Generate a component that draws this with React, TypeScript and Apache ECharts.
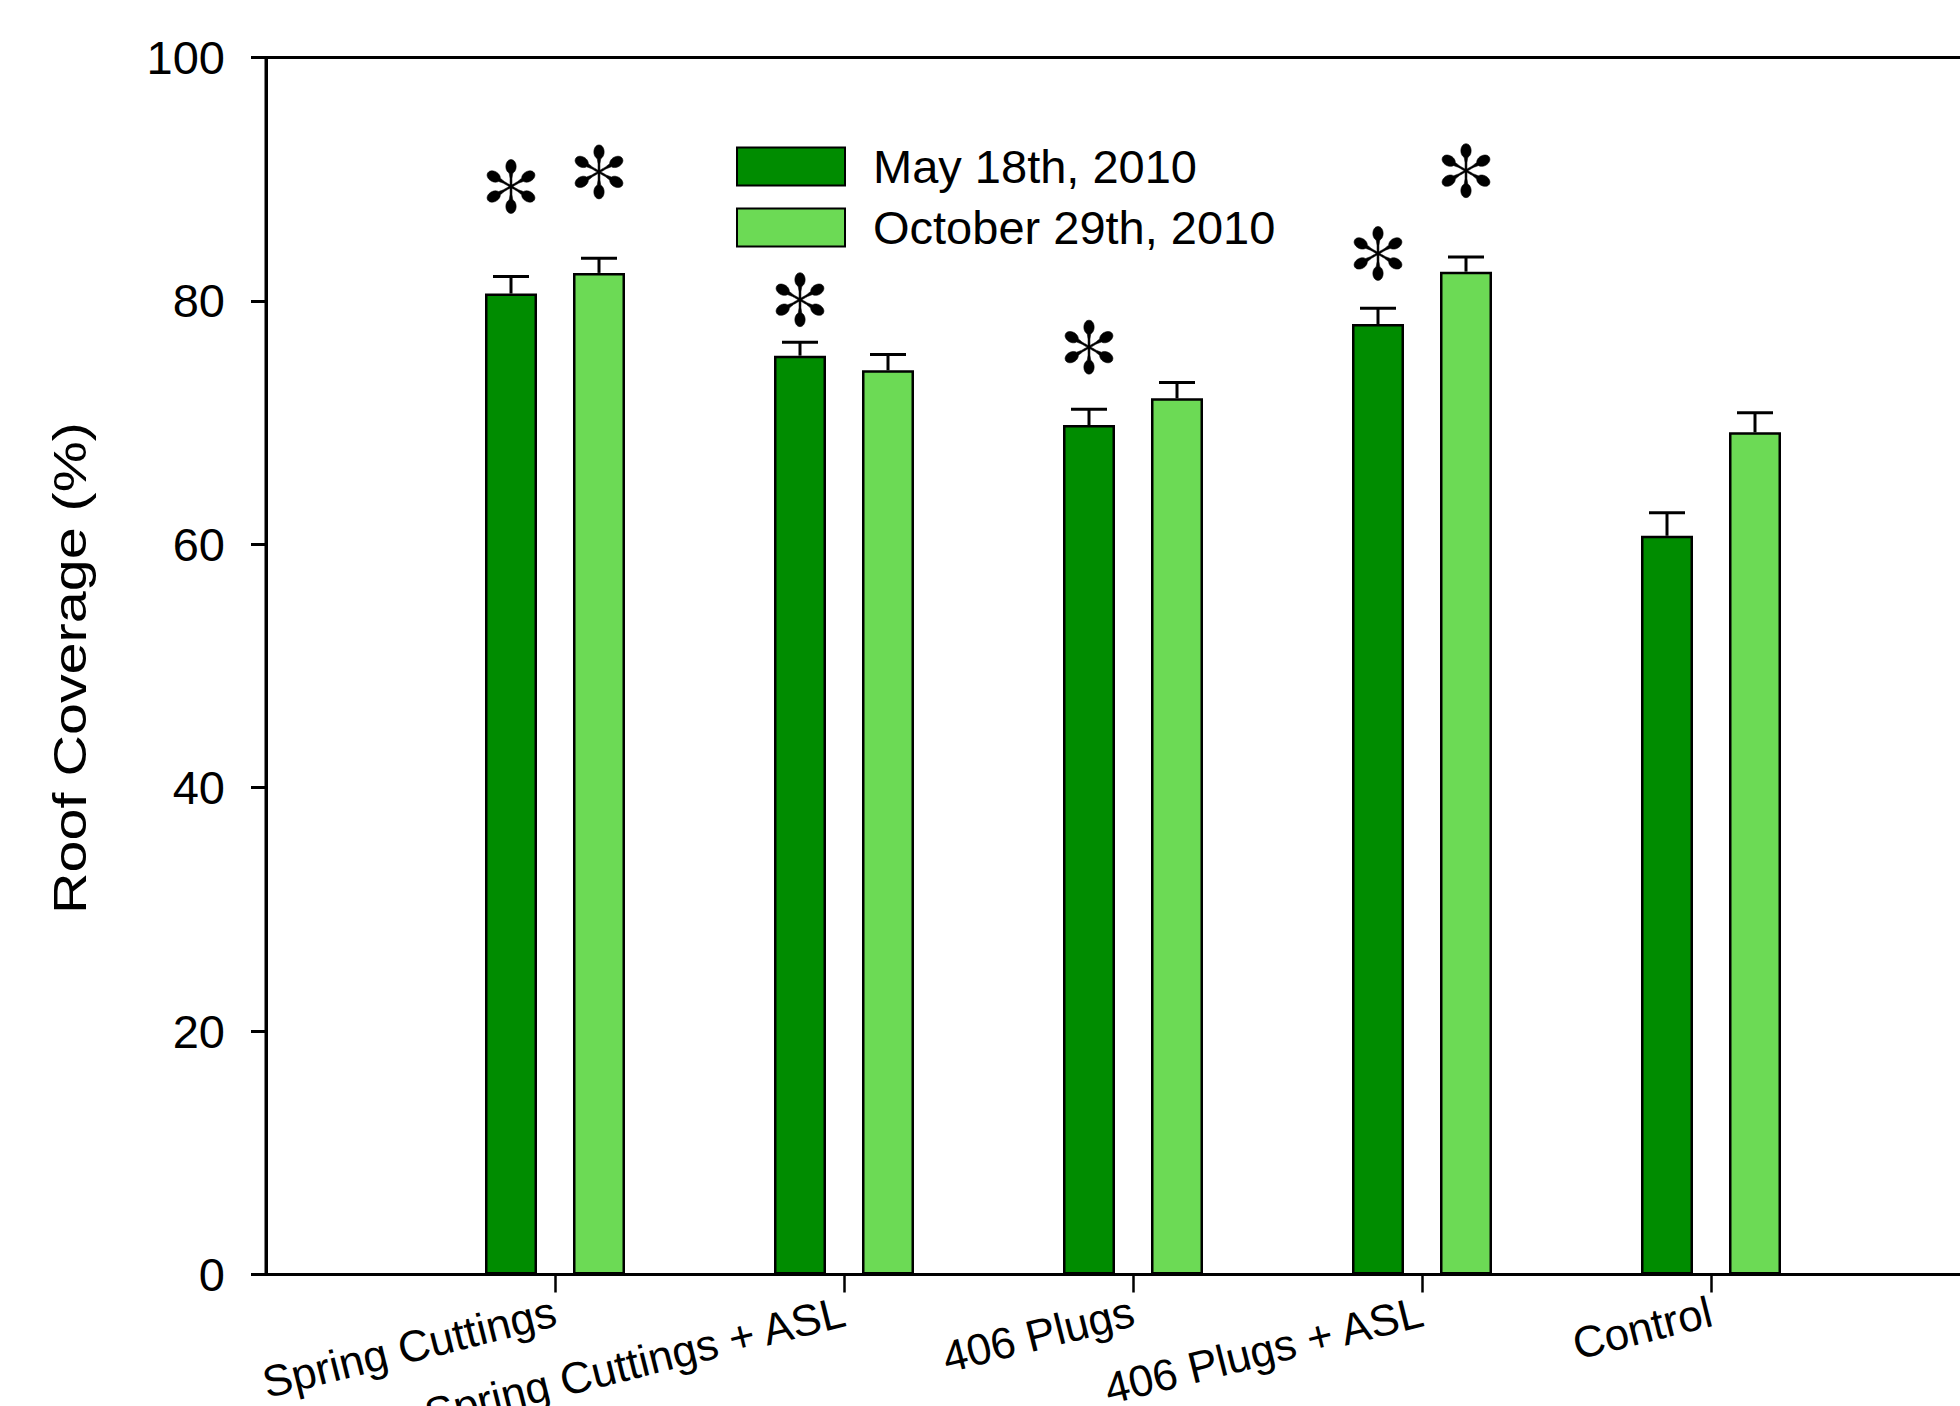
import React, { useEffect, useRef } from "react";
import * as echarts from "echarts";

// ---------- data ----------
const categories = [
  "Spring Cuttings",
  "Spring Cuttings + ASL",
  "406 Plugs",
  "406 Plugs + ASL",
  "Control",
];
const seriesNames = ["May 18th, 2010", "October 29th, 2010"];
const mayValues = [80.6, 75.5, 69.8, 78.1, 60.7];
const mayErrors = [1.4, 1.1, 1.3, 1.3, 1.9];
const octValues = [82.3, 74.3, 72.0, 82.4, 69.2];
const octErrors = [1.2, 1.3, 1.3, 1.2, 1.6];
// height (in % units) of the significance asterisk above each bar, null = none
const mayAsterisks = [89.4, 80.1, 76.2, 83.9, null];
const octAsterisks = [90.6, null, null, 90.7, null];
const yMin = 0;
const yMax = 100;
const yStep = 20;
const yTitle = "Roof Coverage (%)";

// ---------- style constants ----------
const FONT = "'Liberation Sans', Arial, Helvetica, sans-serif";
const DARK = "#008C00";
const LIGHT = "#6CDA55";
const BAR_WIDTH = 52;
const BAR_GAP = 36;
const OFFSET = (BAR_WIDTH + BAR_GAP) / 2;
const CAP_HALF = 18;
const AST_R = 27;

// axis categories padded with an empty slot at both ends
const axisCategories = ["", ...categories, ""];

function halfWidth(t: number): number {
  const stem = 0.035;
  const tc = 0.74;
  const a = 0.26;
  const b = 0.19;
  if (t >= 1) return 0;
  let hw = stem;
  if (t > 0.3 && t < tc) {
    hw = stem + ((t - 0.3) / (tc - 0.3)) * 0.07;
  }
  const u = (t - tc) / a;
  if (Math.abs(u) <= 1) {
    const e = b * Math.sqrt(1 - u * u);
    hw = t >= tc ? e : Math.max(hw, e);
  }
  return hw;
}

function asteriskChildren(cx: number, cy: number, R: number) {
  const children: any[] = [];
  const N = 60;
  for (let k = 0; k < 6; k++) {
    const ang = Math.PI / 2 + (k * Math.PI) / 3;
    const dx = Math.cos(ang);
    const dy = -Math.sin(ang);
    const nx = -dy;
    const ny = dx;
    const left: number[][] = [];
    const right: number[][] = [];
    for (let j = 0; j <= N; j++) {
      const t = j / N;
      const s = R * t;
      const hw = halfWidth(t) * R;
      left.push([cx + dx * s + nx * hw, cy + dy * s + ny * hw]);
      right.push([cx + dx * s - nx * hw, cy + dy * s - ny * hw]);
    }
    children.push({
      type: "polygon",
      shape: { points: left.concat(right.reverse()) },
      style: { fill: "#000", stroke: "#000", lineWidth: 0.6 },
    });
  }
  return children;
}

function errorSeries(name: string, values: number[], errors: number[], sign: number) {
  return {
    name,
    type: "custom",
    silent: true,
    z: 5,
    data: values.map((v, i) => [i + 1, v, errors[i]]),
    renderItem: (params: any, api: any) => {
      const x = api.value(0);
      const v = api.value(1);
      const e = api.value(2);
      const p0 = api.coord([x, v]);
      const p1 = api.coord([x, v + e]);
      const cx = p0[0] + sign * OFFSET;
      return {
        type: "group",
        children: [
          {
            type: "line",
            shape: { x1: cx, y1: p0[1], x2: cx, y2: p1[1] },
            style: { stroke: "#000", lineWidth: 3 },
          },
          {
            type: "line",
            shape: { x1: cx - CAP_HALF, y1: p1[1], x2: cx + CAP_HALF, y2: p1[1] },
            style: { stroke: "#000", lineWidth: 3 },
          },
        ],
      };
    },
  };
}

function asteriskSeries(name: string, heights: (number | null)[], sign: number) {
  const data: number[][] = [];
  heights.forEach((h, i) => {
    if (h !== null) data.push([i + 1, h]);
  });
  return {
    name,
    type: "custom",
    silent: true,
    z: 6,
    data,
    renderItem: (params: any, api: any) => {
      const p = api.coord([api.value(0), api.value(1)]);
      return {
        type: "group",
        children: asteriskChildren(p[0] + sign * OFFSET, p[1], AST_R),
      };
    },
  };
}

export default function App() {
  const ref = useRef<HTMLDivElement>(null);

  useEffect(() => {
    if (!ref.current) return;
    const chart = echarts.init(ref.current, null, { renderer: "svg" });
    const barStyle = (color: string) => ({
      color,
      borderColor: "#000",
      borderWidth: 2.5,
    });
    const option: any = {
      animation: false,
      backgroundColor: "#ffffff",
      textStyle: { fontFamily: FONT, color: "#000" },
      grid: {
        left: 266,
        top: 57.5,
        width: 1734,
        height: 1217,
        show: true,
        borderColor: "#000",
        borderWidth: 3,
        backgroundColor: "transparent",
        containLabel: false,
        outerBoundsMode: "none",
      },
      legend: {
        orient: "vertical",
        left: 736,
        top: 143,
        padding: 0,
        itemWidth: 108,
        itemHeight: 38,
        itemGap: 14,
        icon: "rect",
        selectedMode: false,
        data: seriesNames,
        textStyle: {
          fontSize: 47,
          color: "#000",
          fontFamily: FONT,
          padding: [0, 0, 0, 23],
        },
      },
      xAxis: {
        type: "category",
        data: axisCategories,
        boundaryGap: false,
        axisLine: { show: true, lineStyle: { color: "#000", width: 3 } },
        axisTick: {
          show: true,
          length: 18,
          interval: (index: number, value: string) => value !== "",
          lineStyle: { color: "#000", width: 2.5 },
        },
        axisLabel: {
          interval: 0,
          rotate: 14,
          fontSize: 44,
          margin: 36,
          color: "#000",
          fontFamily: FONT,
        },
        splitLine: { show: false },
      },
      yAxis: {
        type: "value",
        min: yMin,
        max: yMax,
        interval: yStep,
        axisLine: { show: true, lineStyle: { color: "#000", width: 3 } },
        axisTick: { show: true, length: 15, lineStyle: { color: "#000", width: 3 } },
        axisLabel: { fontSize: 47, color: "#000", margin: 41, fontFamily: FONT },
        splitLine: { show: false },
      },
      graphic: [
        {
          type: "text",
          x: 70,
          y: 668,
          rotation: Math.PI / 2,
          scaleX: 1.25,
          style: {
            text: yTitle,
            fontSize: 46,
            fontFamily: FONT,
            fill: "#000",
            textAlign: "center",
            textVerticalAlign: "middle",
          },
        },
      ],
      series: [
        {
          name: seriesNames[0],
          type: "bar",
          barWidth: BAR_WIDTH,
          barGap: `${(BAR_GAP / BAR_WIDTH) * 100}%`,
          itemStyle: barStyle(DARK),
          data: mayValues.map((v, i) => [i + 1, v]),
        },
        {
          name: seriesNames[1],
          type: "bar",
          barWidth: BAR_WIDTH,
          barGap: `${(BAR_GAP / BAR_WIDTH) * 100}%`,
          itemStyle: barStyle(LIGHT),
          data: octValues.map((v, i) => [i + 1, v]),
        },
        errorSeries("may-error", mayValues, mayErrors, -1),
        errorSeries("oct-error", octValues, octErrors, 1),
        asteriskSeries("may-significance", mayAsterisks, -1),
        asteriskSeries("oct-significance", octAsterisks, 1),
      ],
    };
    chart.setOption(option);
    return () => {
      chart.dispose();
    };
  }, []);

  return (
    <div
      ref={ref}
      style={{
        position: "absolute",
        left: 0,
        top: 0,
        width: 1960,
        height: 1406,
        overflow: "hidden",
      }}
    />
  );
}
